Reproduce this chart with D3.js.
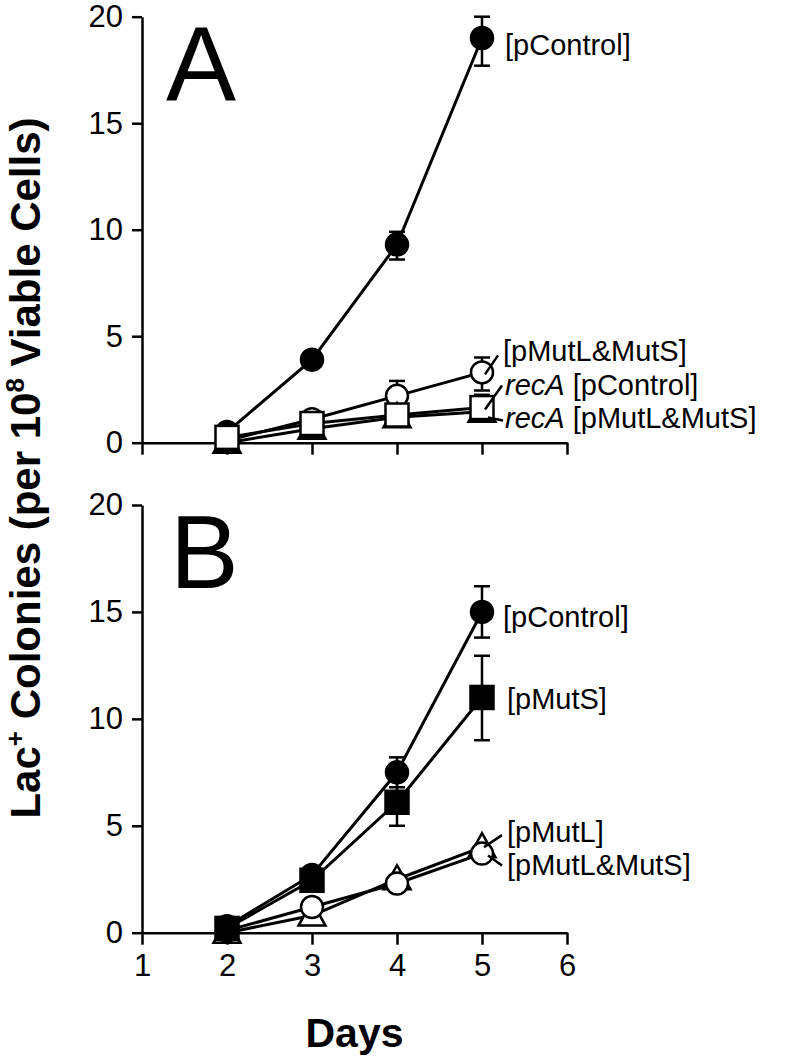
<!DOCTYPE html>
<html><head><meta charset="utf-8">
<script src="https://cdn.jsdelivr.net/npm/d3@7"></script>
<style>body{margin:0;background:#fff}svg{display:block}text{font-family:"Liberation Sans",Arial,Helvetica,sans-serif}</style>
</head><body>
<svg id="c" width="800" height="1060"></svg>
<script>
// ---------- data ----------
const days = [2, 3, 4, 5];
const xTicks = [1, 2, 3, 4, 5, 6];
const yTicks = [0, 5, 10, 15, 20];

// Panel A
const aControl      = [0.5, 3.9, 9.3, 19.0];
const aControlErrUp = [0, 0, 0.6, 1.0];
const aControlErrDn = [0, 0, 0.7, 1.3];
const aMutLS        = [0.1, 1.1, 2.2, 3.3];
const aMutLSErrUp   = [0, 0, 0.7, 0.7];
const aMutLSErrDn   = [0, 0, 0.3, 0.85];
const aRecAControl  = [0.25, 0.9, 1.3, 1.65];
const aRecAControlErrUp = [0, 0, 0, 0.6];
const aRecAMutLS    = [0.0, 0.65, 1.2, 1.45];

// Panel B
const bControl      = [0.3, 2.7, 7.5, 15.0];
const bControlErrUp = [0, 0, 0.7, 1.2];
const bControlErrDn = [0, 0, 0.7, 1.2];
const bMutS         = [0.2, 2.45, 6.1, 11.0];
const bMutSErrUp    = [0, 0, 1.0, 1.95];
const bMutSErrDn    = [0, 0, 1.1, 2.0];
const bMutL         = [0.0, 0.8, 2.5, 4.0];
const bMutLS        = [0.1, 1.2, 2.3, 3.7];

// ---------- drawing ----------
const svg = d3.select("#c");
const x = d3.scaleLinear().domain([1, 6]).range([142, 567]);
const yA = d3.scaleLinear().domain([0, 20]).range([442.7, 16.7]);
const yB = d3.scaleLinear().domain([0, 20]).range([932.7, 505]);

function drawAxes(y, showXLabels) {
  const gy = svg.append("g").attr("transform", `translate(${x(1)},0)`)
    .call(d3.axisLeft(y).tickValues(yTicks).tickFormat(d3.format("d")).tickSize(10).tickSizeOuter(0).tickPadding(9));
  gy.select(".domain").attr("stroke-width", 2.5);
  gy.selectAll(".tick line").attr("stroke-width", 2.5);
  gy.selectAll(".tick text").attr("font-size", 31).attr("fill", "#000");
  const gx = svg.append("g").attr("transform", `translate(0,${y(0)})`)
    .call(d3.axisBottom(x).tickValues(xTicks).tickFormat(d3.format("d")).tickSize(12).tickSizeOuter(0).tickPadding(8));
  gx.select(".domain").attr("stroke-width", 2.5);
  gx.selectAll(".tick line").attr("stroke-width", 2.5);
  gx.selectAll(".tick text").attr("font-size", 31).attr("fill", "#000").attr("dy", "0.75em");
  if (!showXLabels) gx.selectAll(".tick text").remove();
  gx.selectAll("text").attr("font-family", "Liberation Sans, Arial, sans-serif");
  gy.selectAll("text").attr("font-family", "Liberation Sans, Arial, sans-serif");
}

function drawLine(y, vals) {
  svg.append("path")
    .attr("d", d3.line().x((d, i) => x(days[i])).y(d => y(d))(vals))
    .attr("fill", "none").attr("stroke", "#000").attr("stroke-width", 3);
}

function drawErr(y, vals, up, dn) {
  vals.forEach((v, i) => {
    const u = up ? up[i] : 0, l = dn ? dn[i] : 0;
    if (!u && !l) return;
    const cx = x(days[i]);
    const g = svg.append("g").attr("stroke", "#000").attr("stroke-width", 2.5);
    g.append("line").attr("x1", cx).attr("x2", cx).attr("y1", y(v + u)).attr("y2", y(v - l));
    if (u) g.append("line").attr("x1", cx - 8).attr("x2", cx + 8).attr("y1", y(v + u)).attr("y2", y(v + u));
    if (l) g.append("line").attr("x1", cx - 8).attr("x2", cx + 8).attr("y1", y(v - l)).attr("y2", y(v - l));
  });
}

function drawMarkers(y, vals, shape, filled) {
  vals.forEach((v, i) => {
    const cx = x(days[i]), cy = y(v);
    const fill = filled ? "#000" : "#fff";
    let el;
    if (shape === "circle") {
      el = svg.append("circle").attr("cx", cx).attr("cy", cy).attr("r", 11);
    } else if (shape === "square") {
      el = svg.append("rect").attr("x", cx - 11.5).attr("y", cy - 11.5).attr("width", 23).attr("height", 23);
    } else {
      el = svg.append("path").attr("d", `M${cx},${cy - 14} L${cx + 13.5},${cy + 10} L${cx - 13.5},${cy + 10} Z`);
    }
    el.attr("fill", fill).attr("stroke", "#000").attr("stroke-width", 2.5);
  });
}

function label(y, val, parts, dx) {
  const t = svg.append("text").attr("x", x(5) + (dx || 22)).attr("y", y(val))
    .attr("font-size", 29).attr("fill", "#000");
  parts.forEach(p => t.append("tspan").text(p[0]).attr("font-style", p[1] ? "italic" : "normal"));
}

function leader(y, i, vals, dx1, dy1, dx2, dy2) {
  const cx = x(days[i]), cy = y(vals[i]);
  svg.append("line").attr("x1", cx + dx1).attr("y1", cy + dy1).attr("x2", cx + dx2).attr("y2", cy + dy2)
    .attr("stroke", "#000").attr("stroke-width", 2.5);
}

// ----- Panel A -----
drawAxes(yA, false);
drawLine(yA, aControl);
drawLine(yA, aMutLS);
drawLine(yA, aRecAMutLS);
drawLine(yA, aRecAControl);
drawErr(yA, aControl, aControlErrUp, aControlErrDn);
drawErr(yA, aMutLS, aMutLSErrUp, aMutLSErrDn);
drawErr(yA, aRecAControl, aRecAControlErrUp, null);
drawMarkers(yA, aControl, "circle", true);
drawMarkers(yA, aMutLS, "circle", false);
drawMarkers(yA, aRecAMutLS, "triangle", true);
drawMarkers(yA, aRecAControl, "square", false);

label(yA, 18.2, [["[pControl]", false]], 23);
label(yA, 3.84, [["[pMutL&MutS]", false]], 21);
label(yA, 2.22, [["recA", true], [" [pControl]", false]], 23);
label(yA, 0.69, [["recA", true], [" [pMutL&MutS]", false]], 23);
leader(yA, 3, aMutLS, 3, 2, 16, -17);
leader(yA, 3, aRecAControl, 3, 2, 20, -22);
leader(yA, 3, aRecAControl, 6, 10, 21, 13);

svg.append("text").attr("x", 166).attr("y", 100).attr("font-size", 105).text("A");

// ----- Panel B -----
drawAxes(yB, true);
drawLine(yB, bMutL);
drawLine(yB, bMutLS);
drawLine(yB, bControl);
drawLine(yB, bMutS);
drawErr(yB, bControl, bControlErrUp, bControlErrDn);
drawErr(yB, bMutS, bMutSErrUp, bMutSErrDn);
drawMarkers(yB, bMutL, "triangle", false);
drawMarkers(yB, bMutLS, "circle", false);
drawMarkers(yB, bControl, "circle", true);
drawMarkers(yB, bMutS, "square", true);

label(yB, 14.3, [["[pControl]", false]], 21);
label(yB, 10.46, [["[pMutS]", false]], 25);
label(yB, 4.25, [["[pMutL]", false]], 25);
label(yB, 2.7, [["[pMutL&MutS]", false]], 25);
leader(yB, 3, bMutL, 2, 0, 20, -12);
leader(yB, 3, bMutLS, 6, 2, 20, 12);

svg.append("text").attr("x", 170).attr("y", 588).attr("font-size", 103).text("B");

// ----- axis titles -----
svg.append("text").attr("x", x(3.5)).attr("y", 1047).attr("text-anchor", "middle")
  .attr("font-size", 41).attr("font-weight", "bold").text("Days");

const yl = svg.append("text").attr("transform", "translate(40,468) rotate(-90)")
  .attr("text-anchor", "middle").attr("font-size", 42).attr("font-weight", "bold");
yl.append("tspan").text("Lac");
yl.append("tspan").text("+").attr("font-size", 26).attr("dy", -16);
yl.append("tspan").text(" Colonies (per 10").attr("dy", 16);
yl.append("tspan").text("8").attr("font-size", 26).attr("dy", -16);
yl.append("tspan").text(" Viable Cells)").attr("dy", 16);
</script>
</body></html>
